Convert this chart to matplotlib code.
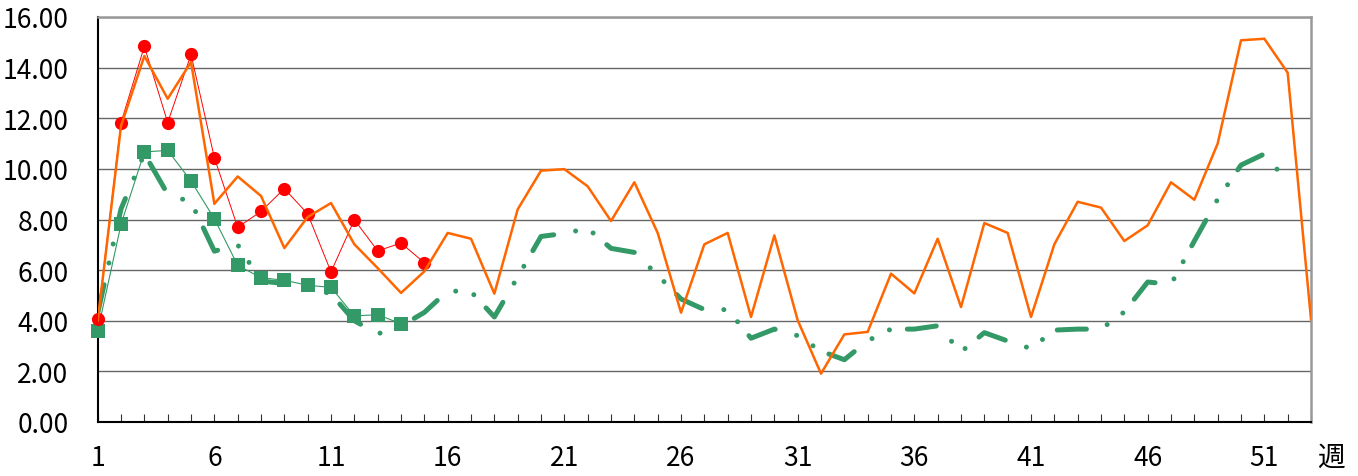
import numpy as np
import matplotlib
matplotlib.use("Agg")
from matplotlib import pyplot as plt

plt.rcParams['font.family'] = ['Noto Sans CJK JP', 'DejaVu Sans']
plt.rcParams['lines.scale_dashes'] = False

weeks = np.arange(1, 54)

# orange: last season, full year
last_season = [4.00, 11.70, 14.46, 12.77, 14.22, 8.62, 9.70, 8.93, 6.87, 8.10,
               8.65, 7.02, 6.08, 5.10, 5.95, 7.47, 7.24, 5.07, 8.40, 9.93,
               9.99, 9.31, 7.94, 9.47, 7.47, 4.32, 7.02, 7.47, 4.15, 7.37,
               4.02, 1.91, 3.46, 3.56, 5.86, 5.08, 7.24, 4.54, 7.86, 7.47,
               4.15, 7.02, 8.70, 8.47, 7.15, 7.77, 9.47, 8.78, 11.00, 15.08,
               15.14, 13.80, 4.06]

# green dash-dot: average of past years (weeks 1-52)
average = [4.30, 8.42, 10.60, 9.00, 8.69, 6.75, 7.00, 5.57, 5.47, 5.33,
           5.06, 4.00, 3.48, 3.79, 4.33, 5.18, 5.15, 4.15, 5.73, 7.33,
           7.45, 7.65, 6.86, 6.70, 5.80, 4.86, 4.44, 4.44, 3.31, 3.67,
           3.41, 2.80, 2.46, 3.21, 3.67, 3.67, 3.80, 2.77, 3.53, 3.20,
           2.90, 3.63, 3.67, 3.67, 4.35, 5.53, 5.44, 7.15, 8.80, 10.15,
           10.59, 9.48]

# red circles: this season
this_season = [4.08, 11.83, 14.84, 11.83, 14.52, 10.44, 7.69, 8.32, 9.22, 8.22,
               5.93, 7.99, 6.76, 7.07, 6.29]

# green squares
squares = [3.59, 7.81, 10.67, 10.73, 9.52, 8.03, 6.19, 5.70, 5.60, 5.40,
           5.32, 4.19, 4.24, 3.88]

green = '#339966'
orange = '#ff6600'
red = '#ff0000'

fig = plt.figure(figsize=(13.58, 4.77), dpi=100)
ax = fig.add_axes([97.7 / 1358, 1 - 423 / 477, (1311 - 97.7) / 1358, (423 - 18) / 477])

ax.plot(weeks[:len(average)], average, color=green, lw=3.6,
        linestyle=(0, (21, 16, 0.01, 14, 0.01, 13)),
        dash_capstyle='round', solid_capstyle='round', zorder=2)
ax.plot(weeks[:len(squares)], squares, color=green, lw=0.8, marker='s',
        markersize=10, markeredgewidth=0, clip_on=False, zorder=3)
ax.plot(weeks[:len(this_season)], this_season, color=red, lw=0.7, marker='o',
        markersize=9.5, markeredgewidth=0, clip_on=False, zorder=4)
ax.plot(weeks, last_season, color=orange, lw=1.8, zorder=5)

ax.set_xlim(1, 53)
ax.set_ylim(0, 16)
ax.set_yticks(np.arange(0, 17, 2))
ax.set_yticklabels([f'{v:.2f}' for v in np.arange(0, 17, 2)])
ax.set_xticks(np.arange(1, 52, 5))
ax.set_xticks(weeks, minor=True)
ax.grid(axis='y', color='#666666', lw=1)
ax.set_axisbelow(True)

ax.tick_params(axis='x', which='both', direction='in', length=6, width=0.8,
               color='#333333')
ax.tick_params(axis='x', which='major', labelsize=19, pad=16)
ax.tick_params(axis='y', length=0, labelsize=19, pad=21)

for s in ['left', 'bottom']:
    ax.spines[s].set_color('black')
    ax.spines[s].set_linewidth(1.5)
for s in ['top', 'right']:
    ax.spines[s].set_color('#999999')
    ax.spines[s].set_linewidth(1.8)

fig.text(1331 / 1358, 1 - 458 / 477, '週', fontsize=20, ha='center', va='center')

fig.savefig('out.png', dpi=100)
